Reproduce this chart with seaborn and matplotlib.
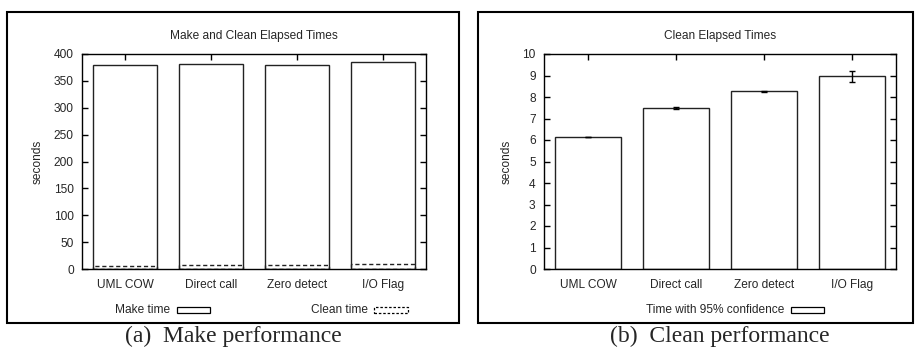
import matplotlib
matplotlib.use("Agg")
import matplotlib.pyplot as plt
import seaborn as sns
import pandas as pd
from matplotlib.patches import Rectangle

categories = ["UML COW", "Direct call", "Zero detect", "I/O Flag"]
make_time = [379, 382, 379, 386]
clean_time = [6.14, 7.48, 8.27, 8.97]
clean_ci = [0.01, 0.04, 0.02, 0.26]
yticks_a = [0, 50, 100, 150, 200, 250, 300, 350, 400]
yticks_b = [0, 1, 2, 3, 4, 5, 6, 7, 8, 9, 10]

sns.set_theme(style="white")
plt.rcParams["font.family"] = ["Liberation Sans", "DejaVu Sans"]

W, H = 915, 347
fig = plt.figure(figsize=(W / 100, H / 100), dpi=100)

def fx(px):
    return px / W

def fy(py):
    return 1 - py / H

FS = 8.6

def style_axes(ax, yticks, ylim):
    ax.set_xlim(-0.5, 3.5)
    ax.set_ylim(*ylim)
    ax.set_yticks(yticks)
    ax.set_yticklabels([str(t) for t in yticks], fontsize=FS)
    ax.set_xticks(range(len(categories)))
    ax.set_xticklabels(categories, fontsize=FS)
    ax.set_xlabel("")
    ax.set_ylabel("seconds", fontsize=FS, labelpad=7)
    for s in ax.spines.values():
        s.set_visible(True)
        s.set_color("black")
        s.set_linewidth(1.0)
    ax.tick_params(axis="both", direction="in", length=4, width=1, color="black",
                   top=True, right=True, bottom=True, left=True, pad=6)
    ax.tick_params(axis="x", pad=7)
    if ax.get_legend() is not None:
        ax.get_legend().remove()

# Panel (a)
axa = fig.add_axes([fx(82), fy(269), fx(426) - fx(82), fy(54) - fy(269)])
df_a = pd.DataFrame({"cat": categories, "make": make_time, "clean": clean_time})
sns.barplot(data=df_a, x="cat", y="make", ax=axa, color="white", width=0.75,
            edgecolor="#222222", linewidth=1.0, saturation=1)
sns.barplot(data=df_a, x="cat", y="clean", ax=axa, color="white", width=0.75,
            edgecolor="#222222", linewidth=1.0, saturation=1, fill=False,
            linestyle=(0, (3, 2)))
style_axes(axa, yticks_a, (0, 400))
axa.set_title("Make and Clean Elapsed Times", fontsize=FS, pad=11)

# Panel (b)
axb = fig.add_axes([fx(544), fy(269), fx(896) - fx(544), fy(54) - fy(269)])
df_b = pd.DataFrame({"cat": categories, "clean": clean_time, "ci": clean_ci})
sns.barplot(data=df_b, x="cat", y="clean", ax=axb, color="white", width=0.75,
            edgecolor="#222222", linewidth=1.0, saturation=1)
axb.errorbar(range(len(categories)), clean_time, yerr=clean_ci, fmt="none",
             ecolor="black", elinewidth=1.0, capsize=2.5, capthick=1.0)
style_axes(axb, yticks_b, (0, 10))
axb.set_title("Clean Elapsed Times", fontsize=FS, pad=11)

# Legends (gnuplot style, below axes)
def legend_item(text_right_px, sw_left_px, sw_right_px, label, dashed=False):
    fig.text(fx(text_right_px), fy(310), label, ha="right", va="center", fontsize=FS)
    r = Rectangle((fx(sw_left_px), fy(313)), fx(sw_right_px) - fx(sw_left_px),
                  fy(307) - fy(313), transform=fig.transFigure, facecolor="white",
                  edgecolor="black", linewidth=0.9,
                  linestyle=(0, (2, 1.5)) if dashed else "-")
    fig.add_artist(r)

legend_item(170, 177, 210, "Make time")
legend_item(368, 374, 408, "Clean time", dashed=True)
legend_item(784, 791, 824, "Time with 95% confidence")

# Outer frames
for (l, r) in [(7, 459), (478, 913)]:
    fig.add_artist(Rectangle((fx(l), fy(323)), fx(r) - fx(l), fy(12) - fy(323),
                             transform=fig.transFigure, fill=False,
                             edgecolor="black", linewidth=1.5))

# Captions
fig.text(fx(233), fy(336), "(a)  Make performance", ha="center", va="center",
         fontsize=17, family=["Liberation Serif", "DejaVu Serif"])
fig.text(fx(720), fy(336), "(b)  Clean performance", ha="center", va="center",
         fontsize=17, family=["Liberation Serif", "DejaVu Serif"])

fig.savefig("out.png", dpi=100)
